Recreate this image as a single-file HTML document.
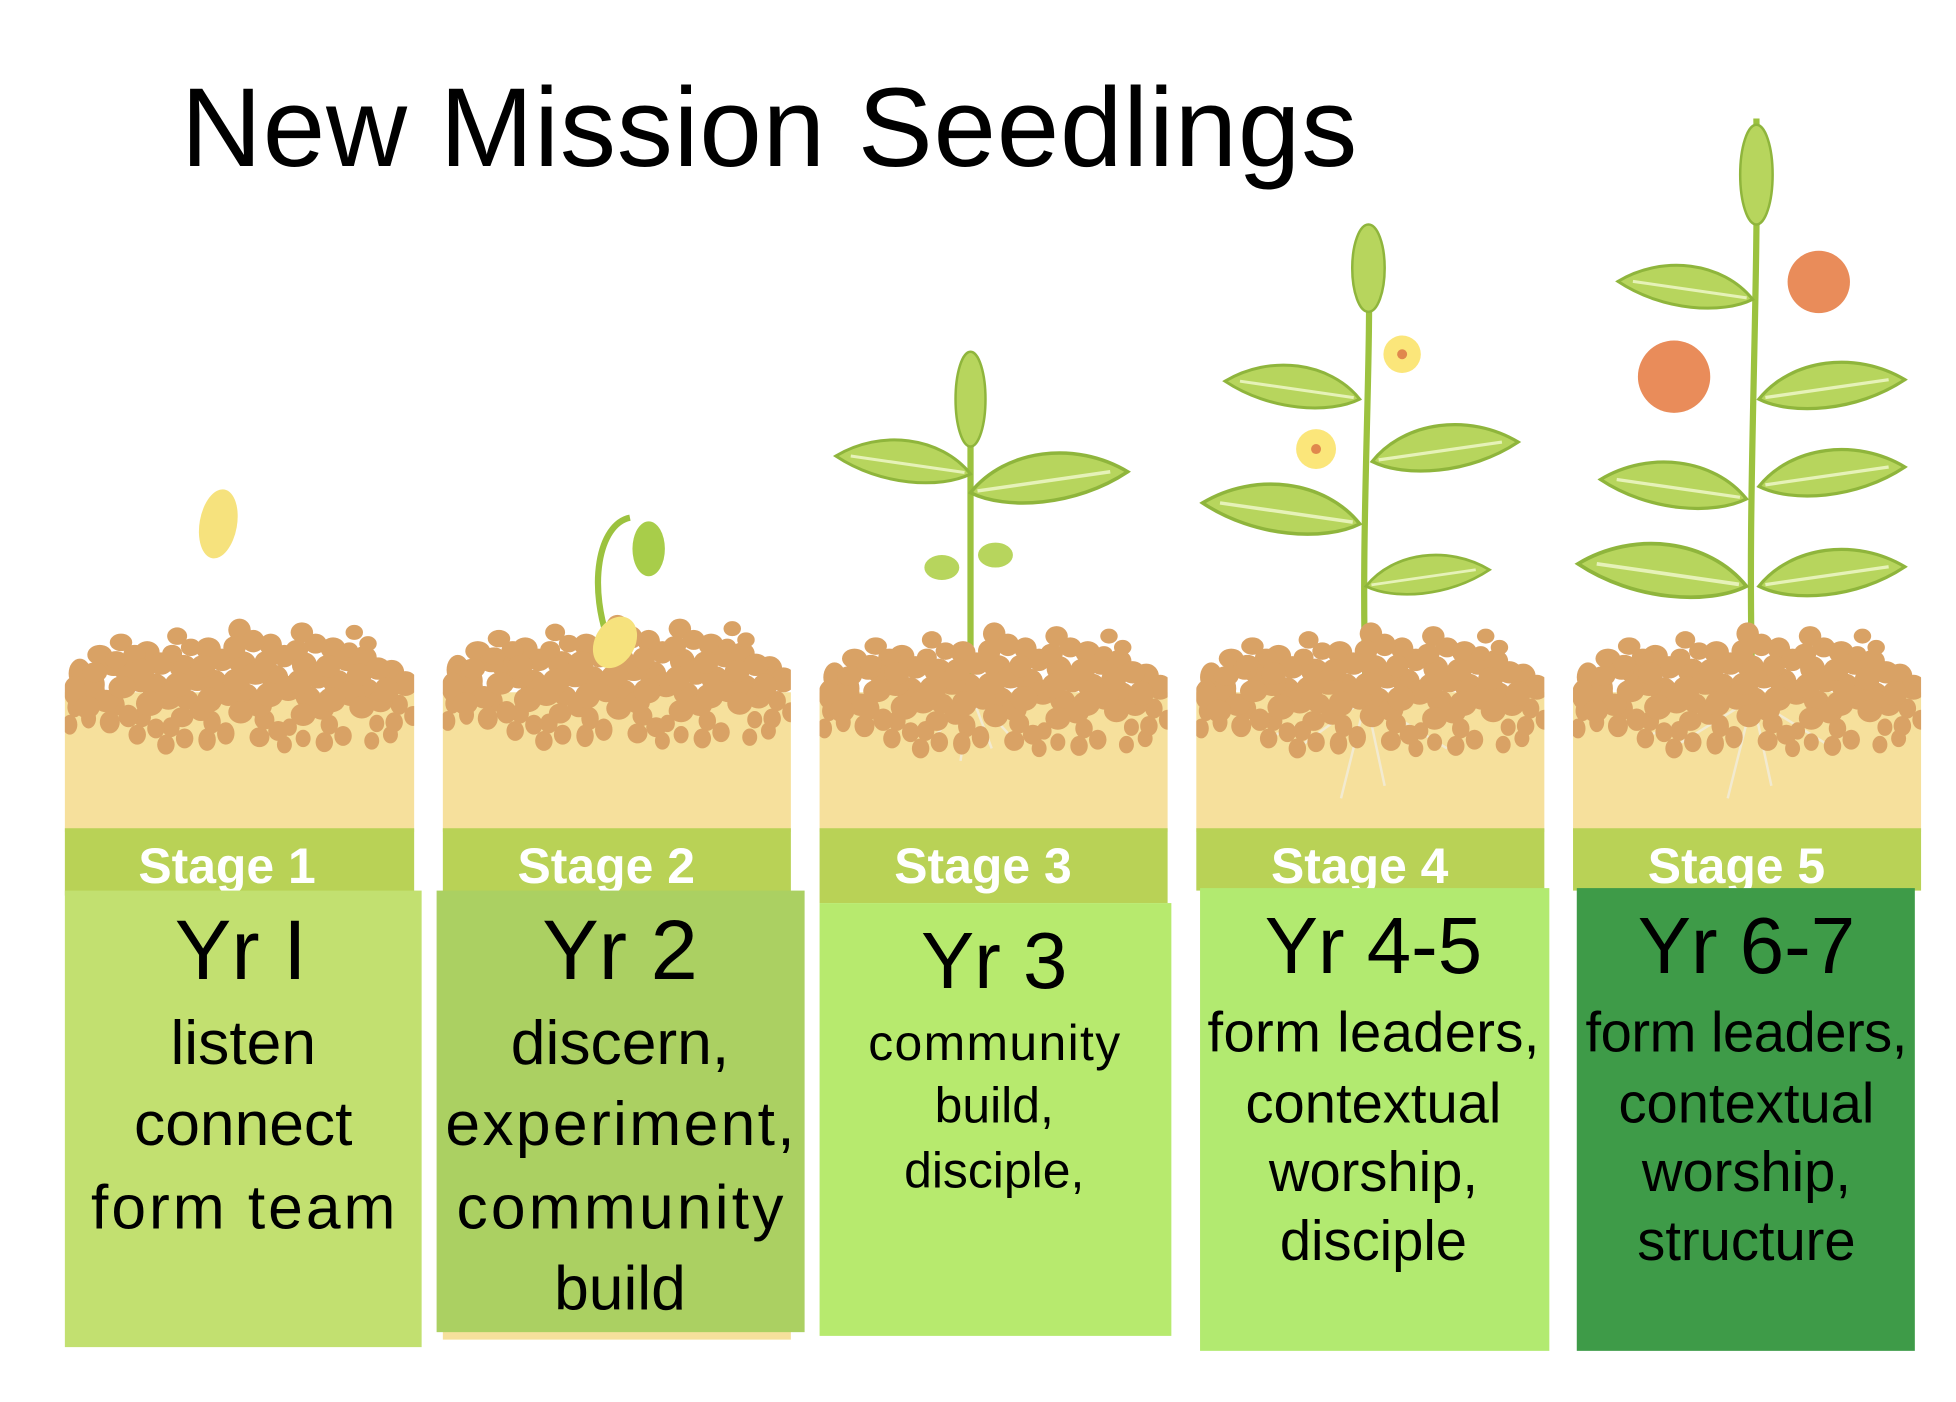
<!DOCTYPE html>
<html><head><meta charset="utf-8"><style>
html,body{margin:0;padding:0;background:#fff;}
svg{display:block}
</style></head><body>
<svg width="1956" height="1402" viewBox="0 0 1568 1124" preserveAspectRatio="none" xmlns="http://www.w3.org/2000/svg">
<defs>
<g id="peb" fill="#d9a265">
<ellipse cx="12" cy="45" rx="9" ry="12"/><ellipse cx="28" cy="30" rx="10" ry="8"/><ellipse cx="22" cy="58" rx="10" ry="9"/>
<ellipse cx="45" cy="20" rx="9" ry="7"/><ellipse cx="50" cy="42" rx="11" ry="9"/><ellipse cx="40" cy="70" rx="8" ry="9"/>
<ellipse cx="66" cy="28" rx="10" ry="9"/><ellipse cx="72" cy="55" rx="11" ry="10"/><ellipse cx="62" cy="80" rx="7" ry="8"/>
<ellipse cx="90" cy="15" rx="8" ry="7"/><ellipse cx="95" cy="40" rx="11" ry="10"/><ellipse cx="98" cy="66" rx="9" ry="8"/>
<ellipse cx="115" cy="25" rx="10" ry="9"/><ellipse cx="120" cy="52" rx="10" ry="10"/><ellipse cx="118" cy="84" rx="7" ry="9"/>
<ellipse cx="140" cy="10" rx="9" ry="9"/><ellipse cx="142" cy="36" rx="11" ry="9"/><ellipse cx="145" cy="62" rx="10" ry="9"/>
<ellipse cx="165" cy="22" rx="9" ry="9"/><ellipse cx="168" cy="48" rx="11" ry="10"/><ellipse cx="160" cy="82" rx="8" ry="8"/>
<ellipse cx="190" cy="12" rx="9" ry="8"/><ellipse cx="192" cy="38" rx="10" ry="10"/><ellipse cx="195" cy="64" rx="10" ry="9"/>
<ellipse cx="215" cy="25" rx="10" ry="9"/><ellipse cx="218" cy="52" rx="11" ry="10"/><ellipse cx="212" cy="86" rx="7" ry="8"/>
<ellipse cx="240" cy="32" rx="10" ry="9"/><ellipse cx="242" cy="58" rx="10" ry="9"/><ellipse cx="262" cy="44" rx="10" ry="10"/>
<ellipse cx="268" cy="70" rx="7" ry="8"/><ellipse cx="250" cy="85" rx="6" ry="7"/><ellipse cx="8" cy="72" rx="6" ry="8"/>
<ellipse cx="85" cy="88" rx="7" ry="8"/><ellipse cx="180" cy="88" rx="6" ry="7"/><ellipse cx="232" cy="12" rx="7" ry="6"/>
</g>
<g id="peb2"><use href="#peb" x="0" y="0"/><use href="#peb" x="11" y="9"/><use href="#peb" x="-4" y="14"/></g>
<g id="leaf"><path d="M0 0 C20 -25 60 -30 90 -12 C60 8 20 10 0 0Z" fill="#b7d55d" stroke="#8fb53c" stroke-width="2"/><path d="M4 -1 L80 -12" stroke="#e6f2b8" stroke-width="2"/></g>
<clipPath id="c1"><rect x="52" y="480" width="280" height="200"/></clipPath>
<clipPath id="c2"><rect x="355" y="480" width="279" height="200"/></clipPath>
<clipPath id="c3"><rect x="657" y="480" width="279" height="200"/></clipPath>
<clipPath id="c4"><rect x="959" y="480" width="279" height="200"/></clipPath>
<clipPath id="c5"><rect x="1261" y="480" width="279" height="200"/></clipPath>
</defs>

<text x="145" y="133" font-family="Liberation Sans, sans-serif" font-size="90" textLength="943" fill="#000">New Mission Seedlings</text>

<g>
<rect x="52" y="555" width="280" height="112" fill="#f6e09c"/>
<rect x="355" y="555" width="279" height="112" fill="#f6e09c"/>
<rect x="657" y="555" width="279" height="112" fill="#f6e09c"/>
<rect x="959" y="555" width="279" height="112" fill="#f6e09c"/>
<rect x="1261" y="555" width="279" height="112" fill="#f6e09c"/>
</g>
<g fill="none" stroke="#9cc23f" stroke-width="5">
<path d="M778 560 L778 290"/><path d="M1095 560 C1090 420 1100 300 1097 185"/><path d="M1405 560 C1400 400 1410 250 1408 95"/>
<path d="M490 520 C470 470 480 420 505 415"/>
</g>
<g stroke="#f2ead0" stroke-width="2" fill="none">
<path d="M778 555 L770 610 M778 555 L795 600 M778 555 L750 590 M778 555 L810 590"/>
<path d="M1095 560 L1075 640 M1095 560 L1110 630 M1095 560 L1040 600 M1095 560 L1160 600 M1095 560 L1020 590"/>
<path d="M1405 560 L1385 640 M1405 560 L1420 630 M1405 560 L1340 600 M1405 560 L1470 600 M1405 560 L1320 590"/>
</g>
<g clip-path="url(#c1)"><use href="#peb2" x="52" y="495"/></g>
<g clip-path="url(#c2)"><use href="#peb2" x="355" y="492"/></g>
<g clip-path="url(#c3)"><use href="#peb2" x="657" y="498"/></g>
<g clip-path="url(#c4)"><use href="#peb2" x="959" y="498"/></g>
<g clip-path="url(#c5)"><use href="#peb2" x="1261" y="498"/></g>

<ellipse cx="175" cy="420" rx="15" ry="28" fill="#f6e27d" transform="rotate(10 175 420)"/>
<ellipse cx="493" cy="515" rx="16" ry="22" fill="#f6e27d" transform="rotate(30 493 515)"/>
<ellipse cx="520" cy="440" rx="13" ry="22" fill="#a8cd4a"/>
<use href="#leaf" transform="translate(778 380) scale(-1.2 1.2)"/>
<use href="#leaf" transform="translate(778 395) scale(1.4 1.4)"/>
<ellipse cx="778" cy="320" rx="12" ry="38" fill="#b7d55d" stroke="#8fb53c" stroke-width="2"/>
<ellipse cx="755" cy="455" rx="14" ry="10" fill="#b7d55d"/><ellipse cx="798" cy="445" rx="14" ry="10" fill="#b7d55d"/>
<ellipse cx="1097" cy="215" rx="13" ry="35" fill="#b7d55d" stroke="#8fb53c" stroke-width="2"/>
<use href="#leaf" transform="translate(1090 320) scale(-1.2 1.2)"/>
<use href="#leaf" transform="translate(1100 370) scale(1.3 1.3)"/>
<use href="#leaf" transform="translate(1090 420) scale(-1.4 1.4)"/>
<use href="#leaf" transform="translate(1095 470) scale(1.1 1.1)"/>
<circle cx="1124" cy="284" r="15" fill="#fbe67a"/><circle cx="1124" cy="284" r="4" fill="#e0884d"/>
<circle cx="1055" cy="360" r="16" fill="#fbe67a"/><circle cx="1055" cy="360" r="4" fill="#e0884d"/>
<ellipse cx="1408" cy="140" rx="13" ry="40" fill="#b7d55d" stroke="#8fb53c" stroke-width="2"/>
<use href="#leaf" transform="translate(1405 240) scale(-1.2 1.2)"/>
<use href="#leaf" transform="translate(1410 320) scale(1.3 1.3)"/>
<use href="#leaf" transform="translate(1400 400) scale(-1.3 1.3)"/>
<use href="#leaf" transform="translate(1410 390) scale(1.3 1.3)"/>
<use href="#leaf" transform="translate(1400 470) scale(-1.5 1.5)"/>
<use href="#leaf" transform="translate(1410 470) scale(1.3 1.3)"/>
<circle cx="1458" cy="226" r="25" fill="#e98c5a"/>
<circle cx="1342" cy="302" r="29" fill="#e98c5a"/>

<g fill="#b9d256">
<rect x="52" y="664" width="280" height="54"/><rect x="355" y="664" width="279" height="54"/><rect x="657" y="664" width="279" height="60"/><rect x="959" y="664" width="279" height="50"/><rect x="1261" y="664" width="279" height="50"/>
</g>
<g font-family="Liberation Sans, sans-serif" font-weight="bold" font-size="40" fill="#fff" text-anchor="middle">
<text x="182" y="708">Stage 1</text><text x="486" y="708">Stage 2</text><text x="788" y="708">Stage 3</text><text x="1090" y="708">Stage 4</text><text x="1392" y="708">Stage 5</text>
</g>
<rect x="355" y="1060" width="279" height="14" fill="#f6e09c"/>
<rect x="52" y="714" width="286" height="366" fill="#c2e070"/>
<rect x="350" y="714" width="295" height="354" fill="#abd062"/>
<rect x="657" y="724" width="282" height="347" fill="#b7ea6e"/>
<rect x="962" y="712" width="280" height="371" fill="#b2ea70"/>
<rect x="1264" y="712" width="271" height="371" fill="#3e9b48"/>

<g font-family="Liberation Sans, sans-serif" fill="#000" text-anchor="middle">
<text x="193" y="785" font-size="68">Yr I</text>
<text x="195" y="853" font-size="50">listen</text>
<text x="195" y="918" font-size="50">connect</text>
<text x="195" y="985" font-size="50" textLength="244">form team</text>
<text x="497" y="785" font-size="68">Yr 2</text>
<text x="497" y="853" font-size="50">discern,</text>
<text x="497" y="918" font-size="50" textLength="280">experiment,</text>
<text x="497" y="985" font-size="50" textLength="262">community</text>
<text x="497" y="1050" font-size="50">build</text>
<text x="797" y="792" font-size="64">Yr 3</text>
<text x="797" y="850" font-size="40" textLength="202">community</text>
<text x="797" y="900" font-size="40">build,</text>
<text x="797" y="952" font-size="40">disciple,</text>
<text x="1101" y="780" font-size="64">Yr 4-5</text>
<text x="1101" y="843" font-size="45" textLength="266">form leaders,</text>
<text x="1101" y="900" font-size="45">contextual</text>
<text x="1101" y="955" font-size="45">worship,</text>
<text x="1101" y="1010" font-size="45">disciple</text>
<text x="1400" y="780" font-size="64">Yr 6-7</text>
<text x="1400" y="843" font-size="45" textLength="258">form leaders,</text>
<text x="1400" y="900" font-size="45">contextual</text>
<text x="1400" y="955" font-size="45">worship,</text>
<text x="1400" y="1010" font-size="45">structure</text>
</g>
</svg>
</body></html>
